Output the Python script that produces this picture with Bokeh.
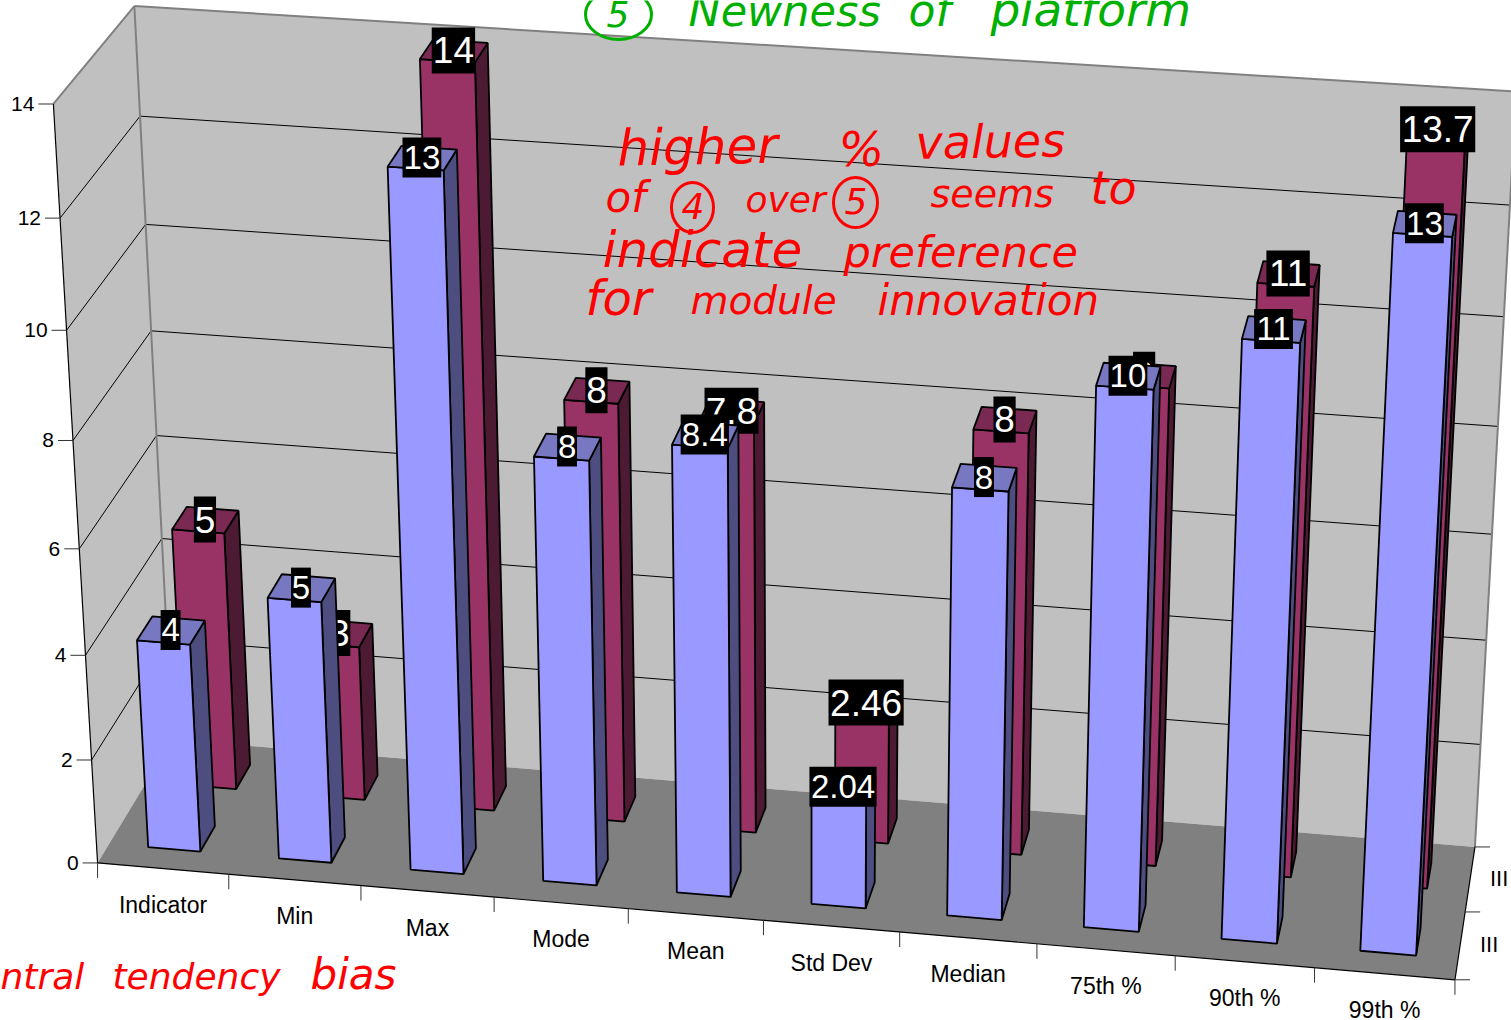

import numpy as np
from bokeh.plotting import figure
from bokeh.models import ColumnDataSource
from bokeh.core.properties import value
from bokeh.embed import file_html
from bokeh.resources import INLINE

# ---- data ----
categories = ["Indicator", "Min", "Max", "Mode", "Mean", "Std Dev", "Median", "75th %", "90th %", "99th %"]
front_values = [4, 5, 13, 8, 8.4, 2.04, 8, 10, 11, 13]
back_values = [5, 3, 14, 8, 7.8, 2.46, 8, 9, 11, 13.7]
front_labels = ["4", "5", "13", "8", "8.4", "2.04", "8", "10", "11", "13"]
back_labels = ["5", "3", "14", "8", "7.8", "2.46", "8", "9", "11", "13.7"]
value_ticks = [0, 2, 4, 6, 8, 10, 12, 14]
series_labels = ["III", "III"]

# ---- camera: (category, depth, value) -> page pixel ----
CAMERA = np.array([
    [130.3586712447889, 40.97608180015018, -3.3781011912622723, 97.5657315478446],
    [8.063145039408864, -45.954312148444124, -54.64452820401002, 862.9235884735563],
    [-0.0036977245826435023, 0.02125330514391255, -0.004179890375471729, 1.0],
])
def P(x, d, z):
    r = CAMERA @ np.array([x, d, z, 1.0])
    return r[0] / r[2] - 0.5, r[1] / r[2] - 0.5

N = len(categories)
ZMAX = value_ticks[-1]
BAR_L, BAR_R = 0.3, 0.7

p = figure(width=1511, height=1020, x_range=(0, 1511), y_range=(1020, 0),
           toolbar_location=None, output_backend="svg", min_border=0,
           background_fill_color="white", border_fill_color="white", outline_line_color=None)
p.axis.visible = False
p.grid.visible = False

def poly(corners):
    pts = [P(*c) for c in corners]
    return [q[0] for q in pts], [q[1] for q in pts]

def patches(faces, colors, line="black", lw=1.8):
    xs, ys = zip(*[poly(f) for f in faces])
    p.patches(list(xs), list(ys), fill_color=colors, line_color=line, line_width=lw)

def seg(a, b, color="black", lw=1.0):
    p.line([a[0], b[0]], [a[1], b[1]], line_color=color, line_width=lw)

# walls and floor
patches([[(0, 0, 0), (0, 2, 0), (0, 2, ZMAX), (0, 0, ZMAX)],
         [(0, 2, 0), (N, 2, 0), (N, 2, ZMAX), (0, 2, ZMAX)]], ["#C0C0C0"] * 2, line=None, lw=0)
patches([[(0, 0, 0), (N, 0, 0), (N, 2, 0), (0, 2, 0)]], ["#808080"], line=None, lw=0)

# gridlines
for z in value_ticks[1:-1]:
    seg(P(0, 0, z), P(0, 2, z))
    seg(P(0, 2, z), P(N, 2, z))
# wall borders
G = "#808080"
seg(P(0, 0, ZMAX), P(0, 2, ZMAX), G, 2)
seg(P(0, 2, ZMAX), P(N, 2, ZMAX), G, 2)
seg(P(0, 2, 0), P(0, 2, ZMAX), G, 2)
seg(P(N, 2, 0), P(N, 2, ZMAX), G, 2)
# axes
seg(P(0, 0, 0), P(0, 0, ZMAX), "black", 1.2)
seg(P(0, 0, 0), P(N, 0, 0), "black", 1.2)
seg(P(N, 0, 0), P(N, 2, 0), "black", 1.2)

# ticks and tick labels
TICK = "#333333"
for z in value_ticks:
    a = P(0, 0, z)
    seg(a, (a[0] - 15, a[1]), TICK)
    p.text([a[0] - 19], [a[1]], text=[str(z)], text_font=value("Liberation Sans"), text_font_size="21px",
           text_align="right", text_baseline="middle", text_color="black")
for i in range(N + 1):
    a = P(i, 0, 0)
    seg(a, (a[0], a[1] + 15), TICK)
for i, c in enumerate(categories):
    a = P(i + 0.5, 0, 0)
    p.text([a[0]], [a[1] + 36.5], text=[c], text_font=value("Liberation Sans"), text_font_size="23px",
           text_align="center", text_baseline="middle", text_color="black")
for d in range(3):
    a = P(N, d, 0)
    seg(a, (a[0] + 15, a[1]), TICK)
for d, s in enumerate(series_labels):
    a = P(N, d + 0.5, 0)
    p.text([a[0] + 29], [a[1] - 1], text=[s], text_font=value("Liberation Sans"), text_font_size="22px",
           text_align="center", text_baseline="middle", text_color="black")

def text_em(s):
    return sum(0.278 if ch == "." else 0.556 for ch in s)

def series(values, labels, d0, face, side, top, fs, box_h):
    d1 = d0 + 0.4
    faces, cols = [], []
    for i, v in enumerate(values):
        l, r = i + BAR_L, i + BAR_R
        faces.append([(r, d0, 0), (r, d1, 0), (r, d1, v), (r, d0, v)]); cols.append(side)
        faces.append([(l, d0, 0), (r, d0, 0), (r, d0, v), (l, d0, v)]); cols.append(face)
        faces.append([(l, d0, v), (r, d0, v), (r, d1, v), (l, d1, v)]); cols.append(top)
    patches(faces, cols)
    cx, cy, w = [], [], []
    for i, (v, s) in enumerate(zip(values, labels)):
        c = P(i + 0.5, d0 + 0.2, v)
        cx.append(c[0] - 0.5); cy.append(c[1] - 0.5); w.append(text_em(s) * fs * 1.03 + 1)
    cx, cy, w = np.array(cx), np.array(cy), np.array(w)
    src = ColumnDataSource(dict(left=cx - w / 2, right=cx + w / 2, top=cy - box_h / 2, bottom=cy + box_h / 2,
                                x=cx, y=cy, t=labels))
    p.quad(left="left", right="right", top="top", bottom="bottom", source=src, fill_color="black", line_color=None)
    p.text(x="x", y="y", text="t", source=src, text_color="white", text_font=value("Liberation Sans"),
           text_font_size=f"{fs}px", text_align="center", text_baseline="middle")

series(back_values, back_labels, 1.3, "#993366", "#4D1A33", "#7A2952", 37, 46)
series(front_values, front_labels, 0.3, "#9999FF", "#4D4D80", "#7878C2", 33, 40)

# ---- handwritten notes ----
def ink(s, x, y, size, color, angle=0.0):
    p.text([x], [y - 0.38 * size], text=[s], text_font=value("DejaVu Sans"), text_font_style="italic",
           text_font_size=f"{size}px", text_color=color, text_align="left", text_baseline="alphabetic",
           angle=np.radians(angle))

def ring(x, y, w, h, color):
    p.ellipse([x], [y], width=w, height=h, fill_color=None, line_color=color, line_width=3)

RED, GREEN = "#FF0000", "#00B000"
ink("higher", 617, 167, 50, RED, 1)
ink("%", 838, 167, 48, RED)
ink("values", 915, 160, 46, RED, 1)
ink("of", 605, 213, 42, RED)
ring(692, 207, 42, 50, RED); ink("4", 681, 219, 36, RED)
ink("over", 745, 213, 36, RED)
ring(855, 202, 44, 50, RED); ink("5", 844, 214, 36, RED)
ink("seems", 930, 208, 38, RED)
ink("to", 1090, 205, 46, RED)
ink("indicate", 602, 268, 50, RED)
ink("preference", 843, 268, 43, RED)
ink("for", 585, 316, 48, RED)
ink("module", 690, 315, 39, RED)
ink("innovation", 877, 316, 42, RED)
ink("ntral", 0, 990, 36, RED)
ink("tendency", 112, 990, 36, RED)
ink("bias", 310, 990, 42, RED)
ring(618, 14, 66, 50, GREEN); ink("5", 606, 27, 36, GREEN)
ink("Newness", 688, 27, 43, GREEN)
ink("of", 908, 27, 44, GREEN)
ink("platform", 990, 27, 47, GREEN)

open("out.html", "w").write(file_html(p, INLINE))
